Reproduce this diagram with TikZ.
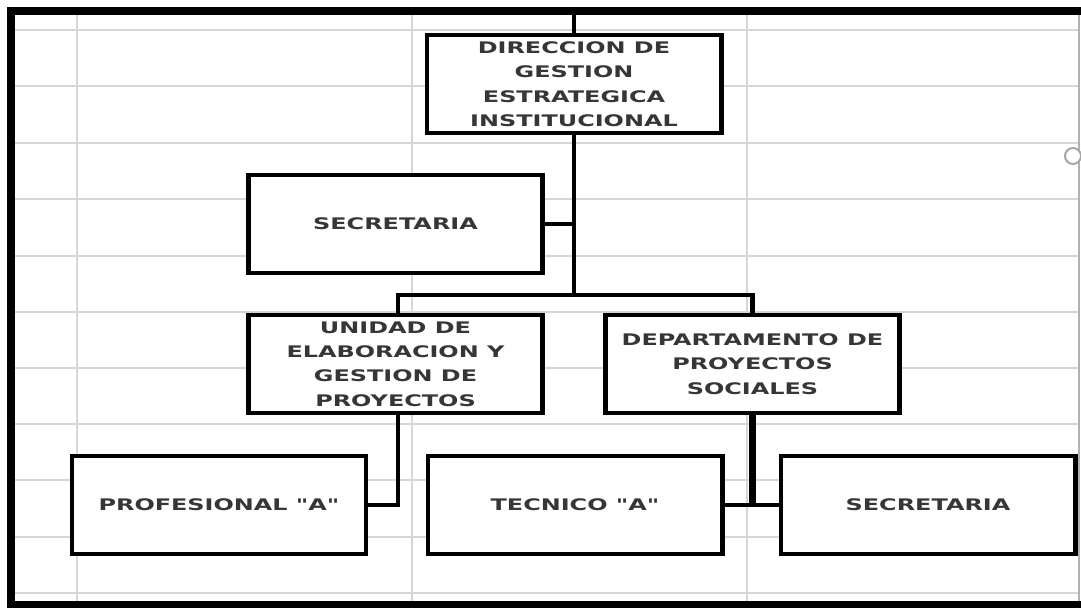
\documentclass[tikz,border=0pt]{standalone}
\usepackage{fontspec}
\setmainfont{DejaVu Sans}[FakeStretch=1.5,Ligatures=TeXOff]
\usepackage{xcolor}
\definecolor{gridgray}{HTML}{D6D6D6}
\definecolor{textgray}{HTML}{363636}

\begin{document}
\begin{tikzpicture}[x=1bp,y=-1bp,
    cell/.style={draw=gridgray,line width=2pt},
    marco/.style={line width=8pt},
    caja/.style={draw,line width=5pt,fill=white,minimum width=294bp,minimum height=98bp,
      inner sep=2pt,align=center,text=textgray,font=\fontsize{16}{24.5}\selectfont\bfseries},
    linea/.style={line width=4.5pt}]
        \useasboundingbox (0,0) rectangle (1081,608);
        \clip (0,0) rectangle (1081,608);
        \fill[white] (-5,-5) rectangle (1090,615);
        % hoja de calculo
        \foreach \y in {30,86,143,199,256,312,368,424,480,537,593}
          \draw[cell] (15,\y) -- (1078,\y);
        \foreach \x in {77,412,747}
          \draw[cell] (\x,15) -- (\x,601);
        \draw[cell,draw=gray!60] (1079,15) -- (1079,601);
        \draw[line width=2pt,draw=gray!70,fill=white] (1073,156) circle (8);
        \draw[marco] (11,610) -- (11,11) -- (1081,11);
        \draw[marco] (7,605) -- (1081,605);
        \begin{scope}
        \node[caja] (dir) at (574,84) {DIRECCION DE\\GESTION\\ESTRATEGICA\\INSTITUCIONAL};
        \node[caja] (sec1) at (395.5,224) {SECRETARIA};
        \node[caja] (unidad) at (395.5,364) {UNIDAD DE\\ELABORACION Y\\GESTION DE\\PROYECTOS};
        \node[caja] (depto) at (752.5,364) {DEPARTAMENTO DE\\PROYECTOS\\SOCIALES};
        \node[caja] (prof) at (219,505) {PROFESIONAL "A"};
        \node[caja] (tec) at (575,505) {TECNICO "A"};
        \node[caja] (sec2) at (928,505) {SECRETARIA};
        \coordinate (arriba) at (574,11);
        \coordinate (bus) at (574,295);
        % Now the lines between the boxes
        \draw[linea] (arriba) -- (dir.north);
        \draw[linea] (dir.south) -- (bus);
        \draw[linea] (sec1.east) -- (sec1.east -| bus);
        \draw[linea] ([xshift=2.5bp]unidad.north) |- (bus) -| (depto.north);
        \draw[linea] ([xshift=2.5bp]unidad.south) |- (prof.east);
        \draw[linea] ([xshift=-1.5bp]depto.south) |- (tec.east);
        \draw[linea] ([xshift=1.5bp]depto.south) |- (sec2.west);
        \end{scope}
    \end{tikzpicture}
\end{document}
